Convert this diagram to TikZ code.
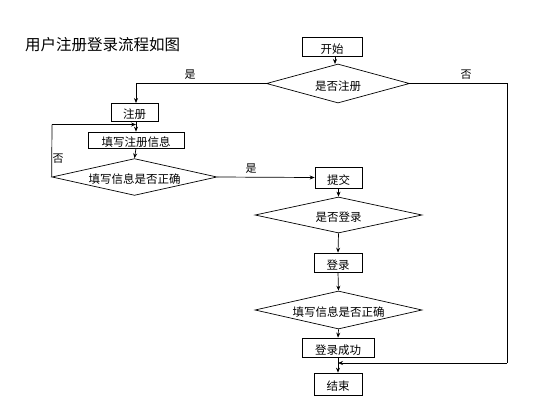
\documentclass[tikz,border=0pt]{standalone}
\usepackage{fontspec}
\setmainfont{Noto Sans CJK SC}
\usetikzlibrary{shapes.geometric,arrows.meta}
\tikzset{
  box/.style={draw,line width=0.7pt,inner sep=0pt,minimum height=19pt,text height=13.5pt,text depth=0.3pt,font=\fontsize{11.5}{12}\selectfont},
  dia/.style={draw,diamond,line width=0.7pt,inner sep=0pt,aspect=4,text height=13.5pt,text depth=0.3pt,font=\fontsize{11.5}{12}\selectfont},
  ln/.style={line width=0.7pt},
  arr/.style={line width=0.7pt,-{Stealth[length=5pt,width=4pt]}},
  lab/.style={font=\fontsize{11}{12}\selectfont,inner sep=0pt}
}
\begin{document}
\begin{tikzpicture}[x=1pt,y=-1pt]
\useasboundingbox[fill=white] (0,0) rectangle (554,405);
\node[anchor=west,inner sep=0pt,font=\fontsize{15.5}{16}\selectfont] (title) at (25,45) {用户注册登录流程如图};

\node[box,minimum width=60pt] (start) at (332,46.5) {开始};
\node[dia,minimum width=143pt,minimum height=39pt] (d1) at (338,83.5) {是否注册};
\node[box,minimum width=47pt,minimum height=18pt] (reg) at (134.5,112) {注册};
\node[box,minimum width=96pt,minimum height=16pt] (fill) at (136,140) {填写注册信息};
\node[dia,minimum width=165pt,minimum height=36pt] (d2) at (134.5,177) {填写信息是否正确};
\node[box,minimum width=47pt,minimum height=21pt] (sub) at (338.5,177.5) {提交};
\node[dia,minimum width=167pt,minimum height=36pt] (d3) at (338.5,215) {是否登录};
\node[box,minimum width=48pt,minimum height=19pt] (login) at (338,262.5) {登录};
\node[dia,minimum width=167pt,minimum height=38pt] (d4) at (338.5,310) {填写信息是否正确};
\node[box,minimum width=72pt,minimum height=19pt] (ok) at (338,347.5) {登录成功};
\node[box,minimum width=48pt,minimum height=22pt] (end) at (338,384) {结束};

\coordinate (c1) at (136,83.5);
\coordinate (c2) at (52,124.5);
\coordinate (j1) at (136,124.5);
\coordinate (c3) at (507,83.5);
\coordinate (c4) at (507,363);
\coordinate (j2) at (338,363);

\draw[arr] (335,56) -- (335,64);
\draw[ln] (d1.west) -- (c1);
\draw[arr] (c1) -- (136,103);
\node[lab] (yes1) at (190,75) {是};
\draw[ln] (d1.east) -- (c3) -- (c4);
\draw[arr] (c4) -- (j2);
\node[lab] (no1) at (466,75) {否};
\draw[arr] (136,121) -- (fill.north);
\draw[ln] (d2.west) -- (c2);
\draw[arr] (c2) -- (j1);
\node[lab] (no2) at (58,159) {否};
\draw[arr] (fill.south) -- (d2.north);
\draw[arr] (d2.east) -- (sub.west);
\node[lab] (yes2) at (251,169) {是};
\draw[arr] (sub.south) -- (d3.north);
\draw[arr] (d3.south) -- (login.north);
\draw[arr] (login.south) -- (d4.north);
\draw[arr] (d4.south) -- (ok.north);
\draw[arr] (ok.south) -- (end.north);
\end{tikzpicture}
\end{document}
